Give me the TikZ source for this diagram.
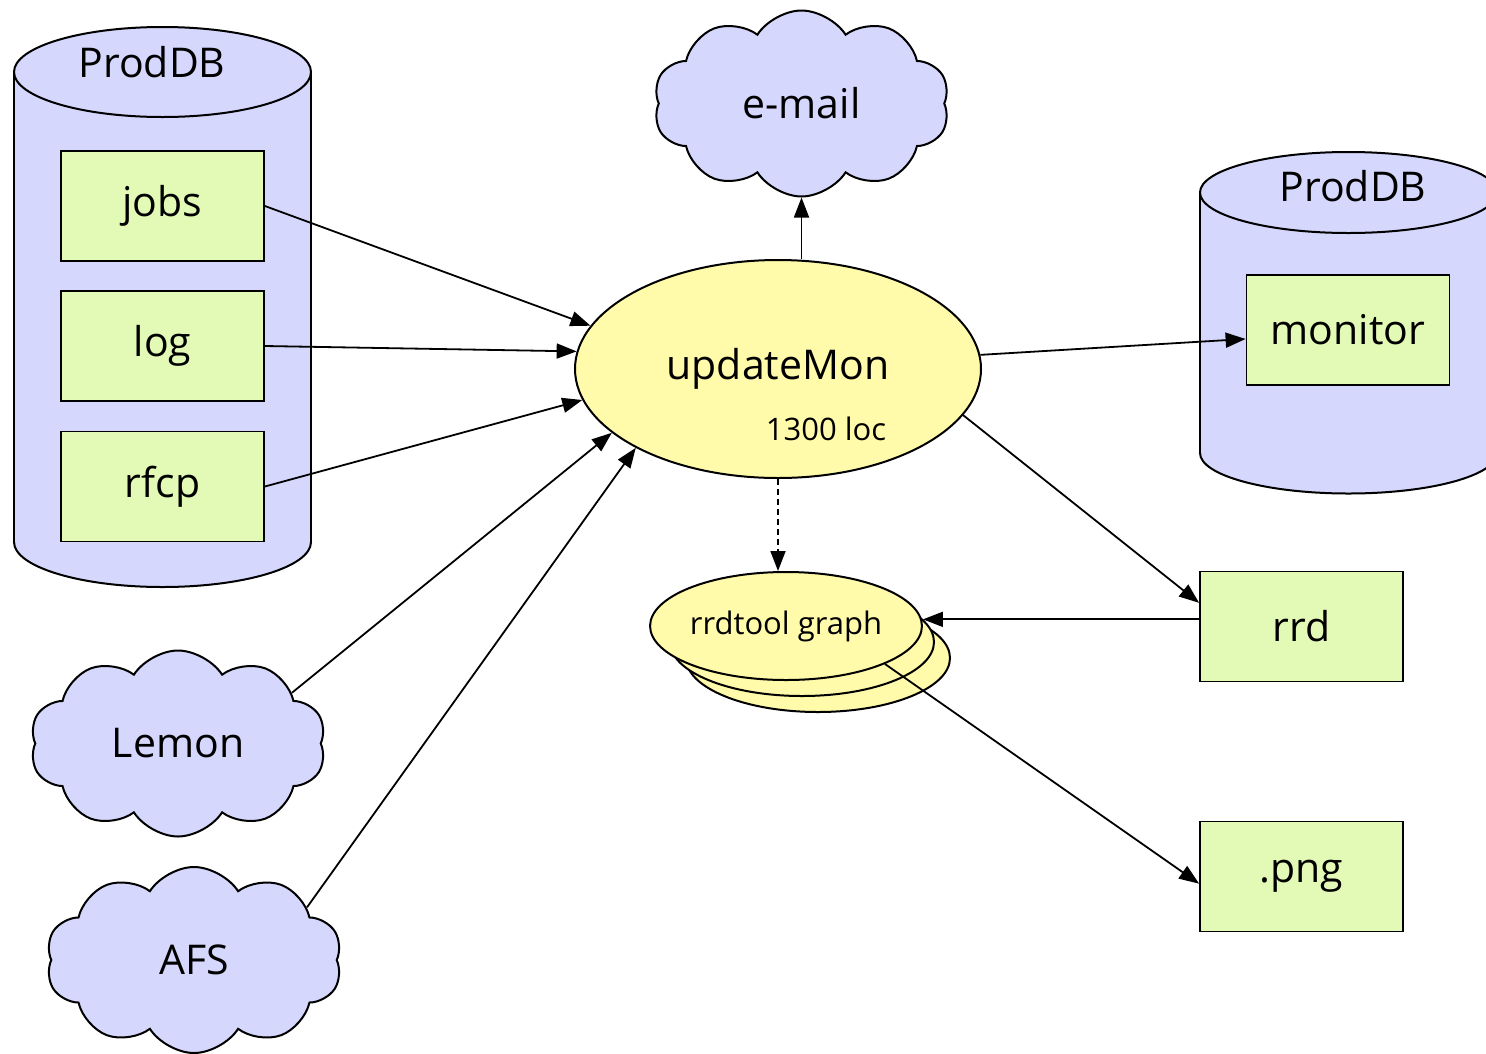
\documentclass[tikz,border=0pt]{standalone}
\usepackage{fontspec}
\setmainfont{Open Sans}
\usetikzlibrary{arrows.meta,shapes.geometric,shapes.symbols}
\definecolor{dblav}{RGB}{213,215,252}
\definecolor{tblgreen}{RGB}{227,249,182}
\definecolor{procyel}{RGB}{255,251,170}
\newcommand{\bigtxt}{\fontsize{41}{48}\selectfont}
\newcommand{\smalltxt}{\fontsize{31}{37}\selectfont}
% database drum: centre x, top y, bottom y, rim radius
\newcommand{\dbdrum}[4]{%
  \filldraw[fill=dblav,line width=2pt] (#1,#3) ellipse [x radius=148.5,y radius=#4];
  \fill[dblav] (#1-148.5,#2) rectangle (#1+148.5,#3);
  \draw[line width=2pt] (#1-148.5,#2) -- (#1-148.5,#3) (#1+148.5,#2) -- (#1+148.5,#3);
  \filldraw[fill=dblav,line width=2pt] (#1,#2) ellipse [x radius=148.5,y radius=#4];}

\begin{document}
\begin{tikzpicture}[x=1pt,y=-1pt,
  box/.style={draw,fill=tblgreen,line width=1.8pt,minimum width=203pt,minimum height=110pt,font=\bigtxt},
  puff/.style={cloud,cloud puffs=10,cloud puff arc=115,cloud ignores aspect,draw,fill=dblav,line width=2pt,minimum width=296pt,minimum height=186pt,font=\bigtxt},
  sheet/.style={ellipse,draw,fill=procyel,line width=2pt,minimum width=264pt,minimum height=108pt,inner sep=0pt},
  arr/.style={-{Triangle[length=20pt,width=15pt]},line width=1.8pt}]
  \clip (0,0) rectangle (1486,1053);
  % databases
  \dbdrum{162.5}{72}{542}{45}
  \dbdrum{1348.5}{192.5}{453}{40.5}
  \node[font=\bigtxt] (dbL) at (152,62) {ProdDB};
  \node[font=\bigtxt] (dbR) at (1353,186) {ProdDB};
  % tables
  \node[box] (jobs) at (162.5,206) {jobs};
  \node[box] (log) at (162.5,346) {log};
  \node[box] (rfcp) at (162.5,486.5) {rfcp};
  \node[box] (monitor) at (1348,330) {monitor};
  \node[box] (rrd) at (1301.5,626.5) {rrd};
  \node[box] (png) at (1301.5,876.5) {.png};
  % outside services
  \node[puff] (mail) at (801.5,103.5) {e-mail};
  \node[puff] (lemon) at (178,743.5) {Lemon};
  \node[puff] (afs) at (194,960) {AFS};
  % the updater
  \node[ellipse,draw,fill=procyel,line width=2pt,minimum width=406pt,minimum height=218pt,font=\bigtxt] (upd) at (778,369) {updateMon};
  \node[font=\smalltxt] (loc) at (826,429) {1300 loc};
  % stack of graphs
  \node[sheet] (graph3) at (818,658) {};
  \node[sheet] (graph2) at (802,642) {};
  \node[sheet,font=\smalltxt] (graph) at (786,626) {rrdtool graph};
  % inputs
  \draw[arr] (jobs.east) -- (upd.167);
  \draw[arr] (log.east) -- (upd.175.5);
  \draw[arr] (rfcp.east) -- (upd.189);
  \draw[arr] (lemon.24) -- (upd.201);
  \draw[arr] (afs.25) -- (upd.209);
  % outputs
  \draw[arr] (upd.north -| mail.south) -- (mail.south);
  \draw[arr] (upd.4.5) -- (monitor.185);
  \draw[arr] (upd.-14) -- (rrd.167);
  \draw[arr,dash pattern=on 6pt off 4pt] (upd.south) -- (upd.south |- graph.north);
  \draw[arr] (rrd.176) -- (rrd.176 -| graph.east);
  \draw[arr] (graph.-21) -- (png.184);
\end{tikzpicture}
\end{document}
